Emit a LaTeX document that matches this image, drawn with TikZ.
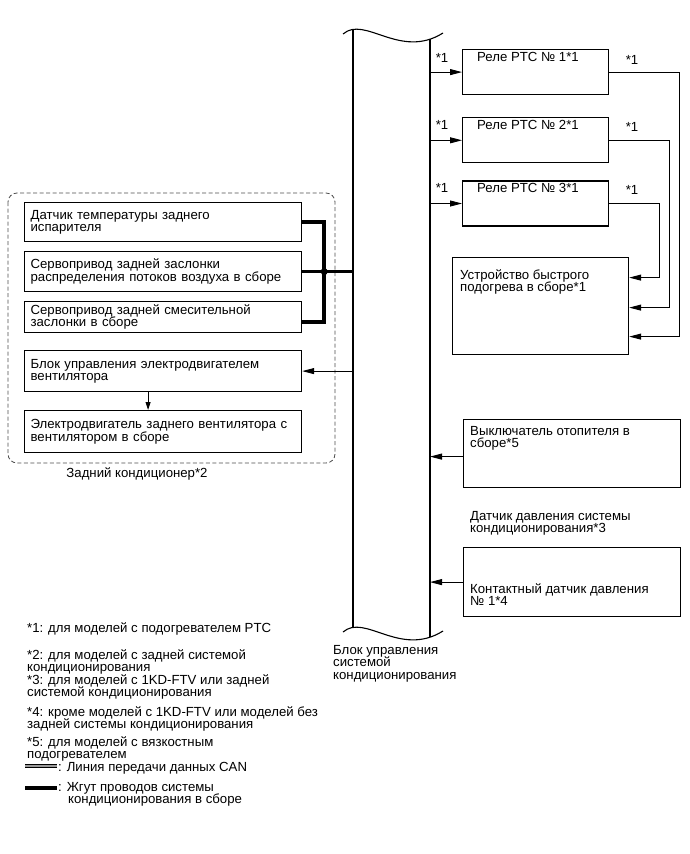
\documentclass[tikz,border=0pt]{standalone}
\usepackage{fontspec}
\setmainfont{Liberation Sans}
\usetikzlibrary{arrows.meta,positioning}

\newcommand{\txtfont}{\fontsize{13.2}{12.5}\selectfont\lineskiplimit=-20pt}

\begin{document}
\begin{tikzpicture}[x=1pt, y=-1pt,
    box/.style={draw, line width=1.2pt, inner sep=0pt, anchor=north west},
    lbox/.style={draw, line width=1.2pt, anchor=north west, minimum width=277pt,
        text width=265pt, inner xsep=6pt, inner ysep=0pt, align=left, font=\txtfont},
    txt/.style={inner sep=0pt, anchor=north west, align=left, font=\txtfont},
    bus/.style={line width=1.1pt},
    arr/.style={-{Triangle[length=12pt,width=6pt]}, line width=0.9pt},
    sarr/.style={-{Triangle[length=8pt,width=5pt]}, line width=0.9pt},
    harn/.style={line width=3.5pt},
    grp/.style={dash pattern=on 4pt off 2.5pt, rounded corners=9pt, line width=0.8pt, black!70}
]
\useasboundingbox (0,0) rectangle (690,854);

% ECU bus
\coordinate (busL) at (353,0);
\coordinate (busR) at (430,0);
\draw[bus] (343,34) .. controls (365,15) and (400,60) .. (443,33);
\draw[bus] (343,632) .. controls (365,613) and (400,658) .. (443,631);
\draw[bus] (353,29) -- (353,627);
\draw[bus] (430,39) -- (430,637);
\node[txt] (ecu) at (333,645) {Блок управления\\системой\\кондиционирования};

% PTC relays and heater
\node[box, minimum width=146pt, minimum height=45pt] (rel1) at (462,49) {};
\node[box, minimum width=146pt, minimum height=45pt, below=22pt of rel1] (rel2) {};
\node[box, minimum width=146pt, minimum height=45pt, below=17pt of rel2] (rel3) {};
\node[txt] (rel1t) at ([shift={(15,3)}]rel1.north west) {Реле PTC № 1*1};
\node[txt] (rel2t) at ([shift={(15,3)}]rel2.north west) {Реле PTC № 2*1};
\node[txt] (rel3t) at ([shift={(15,3)}]rel3.north west) {Реле PTC № 3*1};
\node[txt, anchor=center] (s1a) at (442,58) {*1};
\node[txt, anchor=center] (s2a) at (442,125) {*1};
\node[txt, anchor=center] (s3a) at (442,188) {*1};
\node[txt, anchor=center] (s1b) at (632,60) {*1};
\node[txt, anchor=center] (s2b) at (632,127) {*1};
\node[txt, anchor=center] (s3b) at (632,190) {*1};

\node[box, minimum width=176pt, minimum height=97pt] (heat) at (452,257) {};
\node[txt] (heatt) at ([shift={(8,12)}]heat.north west) {Устройство быстрого\\подогрева в сборе*1};

\draw[arr] (busR |- rel1.west) -- (rel1.west);
\draw[arr] (busR |- rel2.west) -- (rel2.west);
\draw[arr] (busR |- rel3.west) -- (rel3.west);
\draw[arr] (rel3.east) -- ++(50,0) |- ([yshift=28.5pt]heat.east);
\draw[arr] (rel2.east) -- ++(60,0) |- ([yshift=-1.5pt]heat.east);
\draw[arr] (rel1.east) -- ++(70,0) |- ([yshift=-30.5pt]heat.east);

% switches
\node[box, minimum width=217pt, minimum height=68pt] (hsw) at (463,419) {};
\node[txt] (hswt) at ([shift={(7,7)}]hsw.north west) {Выключатель отопителя в\\сборе*5};
\node[txt] (psens) at (470,511) {Датчик давления системы\\кондиционирования*3};
\node[box, minimum width=217pt, minimum height=69pt] (press) at (463,547) {};
\node[txt] (presst) at ([shift={(7,36)}]press.north west) {Контактный датчик давления\\№ 1*4};

\coordinate (hswout) at ([yshift=-3pt]hsw.west);
\draw[arr] (hswout) -- (busR |- hswout);
\draw[arr] (press.west) -- (busR |- press.west);

% rear air conditioner
\draw[grp] (8,193) rectangle (335,463);
\node[txt, anchor=north] (grpt) at (137,467) {Задний кондиционер*2};
\node[lbox, minimum height=39pt] (evap) at (24,202) {Датчик температуры заднего\\испарителя};
\node[lbox, minimum height=40pt] (dist) at (24,251) {Сервопривод задней заслонки\\распределения потоков воздуха в сборе};
\node[lbox, minimum height=31pt] (mix) at (24,301) {Сервопривод задней смесительной\\заслонки в сборе};
\node[lbox, minimum height=41pt] (blw) at (24,350) {Блок управления электродвигателем\\вентилятора};
\node[lbox, minimum height=42pt] (fan) at (24,410) {Электродвигатель заднего вентилятора с\\вентилятором в сборе};

\coordinate (jn) at ([xshift=22pt]dist.east);
\draw[harn] (evap.east) -- ++(22,0) |- ([yshift=-5pt]mix.east);
\draw[harn] (dist.east) -- (busL |- dist.east);
\fill (jn) circle (3.5pt);
\draw[arr] (busL |- blw.east) -- (blw.east);
\draw[sarr] ([xshift=-15pt]blw.south) -- ([xshift=-15pt]fan.north);

% notes
\node[txt] (n1) at (27,622) {*1: для моделей с подогревателем PTC};
\node[txt] (n2) at (27,649) {*2: для моделей с задней системой\\кондиционирования};
\node[txt] (n3) at (27,674) {*3: для моделей с 1KD-FTV или задней\\системой кондиционирования};
\node[txt] (n4) at (27,706) {*4: кроме моделей с 1KD-FTV или моделей без\\задней системы кондиционирования};
\node[txt] (n5) at (27,736) {*5: для моделей с вязкостным\\подогревателем};
\draw[line width=0.9pt, double=black!40, double distance=1.4pt] (25,766) -- (57,766);
\node[txt] (canl) at (58,762) {: Линия передачи данных CAN};
\draw[harn] (25,788) -- (57,788);
\node[txt] (harl) at (58,782) {: Жгут проводов системы\\\hspace*{10pt}кондиционирования в сборе};
\end{tikzpicture}
\end{document}
